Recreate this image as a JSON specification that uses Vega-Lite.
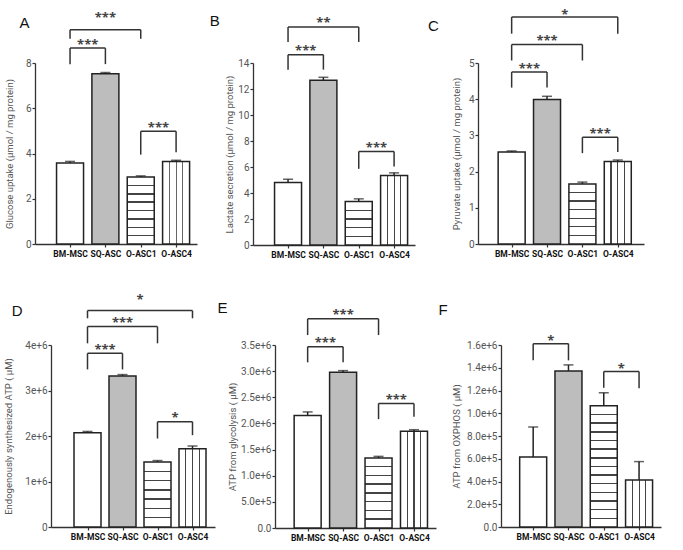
{
  "$schema": "https://vega.github.io/schema/vega-lite/v6.json",
  "background": "white",
  "padding": {"left": 3, "top": 8, "right": 2, "bottom": 2},
  "config": {
    "view": {"stroke": null},
    "axis": {"domainColor": "#333", "domainWidth": 1.3, "tickColor": "#333", "tickWidth": 1.2, "tickSize": 3, "labelFont": "Roboto", "labelFontSize": 10, "labelColor": "#555", "titleFont": "Roboto", "titleFontSize": 9.5, "titleFontWeight": "normal", "titleColor": "#555", "grid": false, "labelPadding": 1, "titlePadding": 3},
    "axisX": {"labelFontWeight": "bold", "labelColor": "#111", "labelFontSize": 8.5, "tickSize": 3, "labelPadding": 2},
    "title": {"font": "Liberation Sans", "fontSize": 15, "fontWeight": "normal", "anchor": "start", "frame": "bounds", "color": "#111"},
    "text": {"font": "Open Sans"}
  },
  "spacing": 35,
  "vconcat": [
    {
      "spacing": 12,
      "hconcat": [
        {
          "width": 162, "height": 181,
          "title": {"text": "A", "dx": 15, "offset": -19},
          "data": {"values": [
            {"p": 1, "g": "BM-MSC", "v": 3.58, "hi": 3.65},
            {"p": 2, "g": "SQ-ASC", "v": 7.53, "hi": 7.58},
            {"p": 3, "g": "O-ASC1", "v": 2.96, "hi": 3.01},
            {"p": 4, "g": "O-ASC4", "v": 3.65, "hi": 3.7}
          ]},
          "encoding": {
            "x": {"field": "p", "type": "quantitative", "scale": {"domain": [0.15, 4.45], "nice": false, "zero": false}, "axis": {"values": [1, 2, 3, 4], "title": null, "labelExpr": "['BM-MSC','SQ-ASC','O-ASC1','O-ASC4'][datum.value-1]"}},
            "y": {"field": "v", "type": "quantitative", "scale": {"domain": [0, 8], "nice": false}, "axis": {"values": [0, 2, 4, 6, 8], "titlePadding": 11, "title": "Glucose uptake (μmol / mg protein)"}}
          },
          "layer": [
            {"transform": [{"filter": "datum.p==1"}], "mark": {"type": "bar", "width": 27, "fill": "#fff", "stroke": "#222", "strokeWidth": 1.5}},
            {"transform": [{"filter": "datum.p==2"}], "mark": {"type": "bar", "width": 27, "fill": "#bdbdbd", "stroke": "#222", "strokeWidth": 1.5}},
            {"transform": [{"filter": "datum.p==3"}], "mark": {"type": "bar", "width": 27, "stroke": "#222", "strokeWidth": 1.5, "fill": {"gradient": "linear", "x1": 0, "y1": 0, "x2": 0, "y2": 1, "stops": [
              {"offset": 0, "color": "#fff"},
              {"offset": 0.114, "color": "#fff"}, {"offset": 0.114, "color": "#444"}, {"offset": 0.136, "color": "#444"}, {"offset": 0.136, "color": "#fff"},
              {"offset": 0.239, "color": "#fff"}, {"offset": 0.239, "color": "#444"}, {"offset": 0.261, "color": "#444"}, {"offset": 0.261, "color": "#fff"},
              {"offset": 0.364, "color": "#fff"}, {"offset": 0.364, "color": "#444"}, {"offset": 0.386, "color": "#444"}, {"offset": 0.386, "color": "#fff"},
              {"offset": 0.489, "color": "#fff"}, {"offset": 0.489, "color": "#444"}, {"offset": 0.511, "color": "#444"}, {"offset": 0.511, "color": "#fff"},
              {"offset": 0.614, "color": "#fff"}, {"offset": 0.614, "color": "#444"}, {"offset": 0.636, "color": "#444"}, {"offset": 0.636, "color": "#fff"},
              {"offset": 0.739, "color": "#fff"}, {"offset": 0.739, "color": "#444"}, {"offset": 0.761, "color": "#444"}, {"offset": 0.761, "color": "#fff"},
              {"offset": 0.864, "color": "#fff"}, {"offset": 0.864, "color": "#444"}, {"offset": 0.886, "color": "#444"}, {"offset": 0.886, "color": "#fff"},
              {"offset": 1, "color": "#fff"}]}}},
            {"transform": [{"filter": "datum.p==4"}], "mark": {"type": "bar", "width": 27, "stroke": "#222", "strokeWidth": 1.5, "fill": {"gradient": "linear", "x1": 0, "y1": 0, "x2": 1, "y2": 0, "stops": [
              {"offset": 0, "color": "#fff"}, {"offset": 0.23, "color": "#fff"}, {"offset": 0.23, "color": "#666"}, {"offset": 0.27, "color": "#666"}, {"offset": 0.27, "color": "#fff"},
              {"offset": 0.48, "color": "#fff"}, {"offset": 0.48, "color": "#666"}, {"offset": 0.52, "color": "#666"}, {"offset": 0.52, "color": "#fff"},
              {"offset": 0.73, "color": "#fff"}, {"offset": 0.73, "color": "#666"}, {"offset": 0.77, "color": "#666"}, {"offset": 0.77, "color": "#fff"}, {"offset": 1, "color": "#fff"}]}}},
            {"mark": {"type": "rule", "stroke": "#222", "strokeWidth": 1.5}, "encoding": {"y2": {"field": "hi"}}},
            {"mark": {"type": "tick", "orient": "horizontal", "size": 10, "thickness": 1.5, "color": "#222"}, "encoding": {"y": {"field": "hi", "type": "quantitative"}}},
            {
              "data": {"values": [
                {"a": 1, "b": 3, "m": 2, "y": 9.47, "yl": 9.07, "yr": 9.07, "s": "***", "ys": 10.13},
                {"a": 1, "b": 2, "m": 1.5, "y": 8.66, "yl": 7.95, "yr": 7.95, "s": "***", "ys": 8.95},
                {"a": 3, "b": 4, "m": 3.5, "y": 4.98, "yl": 3.95, "yr": 4.06, "s": "***", "ys": 5.27}
              ]},
              "layer": [
                {"mark": {"type": "rule", "stroke": "#333", "strokeWidth": 1.5}, "encoding": {"x": {"field": "a", "type": "quantitative"}, "x2": {"field": "b"}, "y": {"field": "y", "type": "quantitative"}}},
                {"mark": {"type": "rule", "stroke": "#333", "strokeWidth": 1.5}, "encoding": {"x": {"field": "a", "type": "quantitative"}, "y": {"field": "y", "type": "quantitative"}, "y2": {"field": "yl"}}},
                {"mark": {"type": "rule", "stroke": "#333", "strokeWidth": 1.5}, "encoding": {"x": {"field": "b", "type": "quantitative"}, "y": {"field": "y", "type": "quantitative"}, "y2": {"field": "yr"}}},
                {"mark": {"type": "text", "fontSize": 13, "fontWeight": "bold", "color": "#444", "baseline": "alphabetic", "dy": 7}, "encoding": {"x": {"field": "m", "type": "quantitative"}, "y": {"field": "ys", "type": "quantitative"}, "text": {"field": "s"}}}
              ]
            }
          ]
        },
        {
          "width": 162, "height": 182,
          "title": {"text": "B", "dx": -15, "offset": -12},
          "data": {"values": [
            {"p": 1, "g": "BM-MSC", "v": 4.8, "hi": 5.06},
            {"p": 2, "g": "SQ-ASC", "v": 12.67, "hi": 12.9},
            {"p": 3, "g": "O-ASC1", "v": 3.34, "hi": 3.55},
            {"p": 4, "g": "O-ASC4", "v": 5.35, "hi": 5.55}
          ]},
          "encoding": {
            "x": {"field": "p", "type": "quantitative", "scale": {"domain": [0.15, 4.45], "nice": false, "zero": false}, "axis": {"values": [1, 2, 3, 4], "title": null, "labelExpr": "['BM-MSC','SQ-ASC','O-ASC1','O-ASC4'][datum.value-1]"}},
            "y": {"field": "v", "type": "quantitative", "scale": {"domain": [0, 14], "nice": false}, "axis": {"values": [0, 2, 4, 6, 8, 10, 12, 14], "title": "Lactate secretion (μmol / mg protein)"}}
          },
          "layer": [
            {"transform": [{"filter": "datum.p==1"}], "mark": {"type": "bar", "width": 27, "fill": "#fff", "stroke": "#222", "strokeWidth": 1.5}},
            {"transform": [{"filter": "datum.p==2"}], "mark": {"type": "bar", "width": 27, "fill": "#bdbdbd", "stroke": "#222", "strokeWidth": 1.5}},
            {"transform": [{"filter": "datum.p==3"}], "mark": {"type": "bar", "width": 27, "stroke": "#222", "strokeWidth": 1.5, "fill": {"gradient": "linear", "x1": 0, "y1": 0, "x2": 0, "y2": 1, "stops": [
              {"offset": 0, "color": "#fff"},
              {"offset": 0.184, "color": "#fff"}, {"offset": 0.184, "color": "#444"}, {"offset": 0.216, "color": "#444"}, {"offset": 0.216, "color": "#fff"},
              {"offset": 0.384, "color": "#fff"}, {"offset": 0.384, "color": "#444"}, {"offset": 0.416, "color": "#444"}, {"offset": 0.416, "color": "#fff"},
              {"offset": 0.584, "color": "#fff"}, {"offset": 0.584, "color": "#444"}, {"offset": 0.616, "color": "#444"}, {"offset": 0.616, "color": "#fff"},
              {"offset": 0.784, "color": "#fff"}, {"offset": 0.784, "color": "#444"}, {"offset": 0.816, "color": "#444"}, {"offset": 0.816, "color": "#fff"},
              {"offset": 1, "color": "#fff"}]}}},
            {"transform": [{"filter": "datum.p==4"}], "mark": {"type": "bar", "width": 27, "stroke": "#222", "strokeWidth": 1.5, "fill": {"gradient": "linear", "x1": 0, "y1": 0, "x2": 1, "y2": 0, "stops": [
              {"offset": 0, "color": "#fff"}, {"offset": 0.23, "color": "#fff"}, {"offset": 0.23, "color": "#444"}, {"offset": 0.27, "color": "#444"}, {"offset": 0.27, "color": "#fff"},
              {"offset": 0.48, "color": "#fff"}, {"offset": 0.48, "color": "#444"}, {"offset": 0.52, "color": "#444"}, {"offset": 0.52, "color": "#fff"},
              {"offset": 0.73, "color": "#fff"}, {"offset": 0.73, "color": "#444"}, {"offset": 0.77, "color": "#444"}, {"offset": 0.77, "color": "#fff"}, {"offset": 1, "color": "#fff"}]}}},
            {"mark": {"type": "rule", "stroke": "#222", "strokeWidth": 1.5}, "encoding": {"y2": {"field": "hi"}}},
            {"mark": {"type": "tick", "orient": "horizontal", "size": 10, "thickness": 1.5, "color": "#222"}, "encoding": {"y": {"field": "hi", "type": "quantitative"}}},
            {
              "data": {"values": [
                {"a": 1, "b": 3, "m": 2, "y": 16.77, "yl": 15.62, "yr": 15.62, "s": "**", "ys": 17.34},
                {"a": 1, "b": 2, "m": 1.5, "y": 14.64, "yl": 13.49, "yr": 13.49, "s": "***", "ys": 15.16},
                {"a": 3, "b": 4, "m": 3.5, "y": 7.19, "yl": 5.86, "yr": 6.04, "s": "***", "ys": 7.71}
              ]},
              "layer": [
                {"mark": {"type": "rule", "stroke": "#333", "strokeWidth": 1.5}, "encoding": {"x": {"field": "a", "type": "quantitative"}, "x2": {"field": "b"}, "y": {"field": "y", "type": "quantitative"}}},
                {"mark": {"type": "rule", "stroke": "#333", "strokeWidth": 1.5}, "encoding": {"x": {"field": "a", "type": "quantitative"}, "y": {"field": "y", "type": "quantitative"}, "y2": {"field": "yl"}}},
                {"mark": {"type": "rule", "stroke": "#333", "strokeWidth": 1.5}, "encoding": {"x": {"field": "b", "type": "quantitative"}, "y": {"field": "y", "type": "quantitative"}, "y2": {"field": "yr"}}},
                {"mark": {"type": "text", "fontSize": 13, "fontWeight": "bold", "color": "#444", "baseline": "alphabetic", "dy": 7}, "encoding": {"x": {"field": "m", "type": "quantitative"}, "y": {"field": "ys", "type": "quantitative"}, "text": {"field": "s"}}}
              ]
            }
          ]
        },
        {
          "width": 166, "height": 181,
          "title": {"text": "C", "dx": -23.5, "offset": -25},
          "data": {"values": [
            {"p": 1, "g": "BM-MSC", "v": 2.54, "hi": 2.57},
            {"p": 2, "g": "SQ-ASC", "v": 3.99, "hi": 4.08},
            {"p": 3, "g": "O-ASC1", "v": 1.66, "hi": 1.71},
            {"p": 4, "g": "O-ASC4", "v": 2.28, "hi": 2.32}
          ]},
          "encoding": {
            "x": {"field": "p", "type": "quantitative", "scale": {"domain": [0.19, 4.6], "nice": false, "zero": false}, "axis": {"values": [1, 2, 3, 4], "title": null, "labelExpr": "['BM-MSC','SQ-ASC','O-ASC1','O-ASC4'][datum.value-1]"}},
            "y": {"field": "v", "type": "quantitative", "scale": {"domain": [0, 5], "nice": false}, "axis": {"values": [0, 1, 2, 3, 4, 5], "titlePadding": 7, "title": "Pyruvate uptake (μmol / mg protein)"}}
          },
          "layer": [
            {"transform": [{"filter": "datum.p==1"}], "mark": {"type": "bar", "width": 27, "fill": "#fff", "stroke": "#222", "strokeWidth": 1.5}},
            {"transform": [{"filter": "datum.p==2"}], "mark": {"type": "bar", "width": 27, "fill": "#bdbdbd", "stroke": "#222", "strokeWidth": 1.5}},
            {"transform": [{"filter": "datum.p==3"}], "mark": {"type": "bar", "width": 27, "stroke": "#222", "strokeWidth": 1.5, "fill": {"gradient": "linear", "x1": 0, "y1": 0, "x2": 0, "y2": 1, "stops": [
              {"offset": 0, "color": "#fff"},
              {"offset": 0.132, "color": "#fff"}, {"offset": 0.132, "color": "#444"}, {"offset": 0.154, "color": "#444"}, {"offset": 0.154, "color": "#fff"},
              {"offset": 0.275, "color": "#fff"}, {"offset": 0.275, "color": "#444"}, {"offset": 0.297, "color": "#444"}, {"offset": 0.297, "color": "#fff"},
              {"offset": 0.418, "color": "#fff"}, {"offset": 0.418, "color": "#444"}, {"offset": 0.44, "color": "#444"}, {"offset": 0.44, "color": "#fff"},
              {"offset": 0.56, "color": "#fff"}, {"offset": 0.56, "color": "#444"}, {"offset": 0.582, "color": "#444"}, {"offset": 0.582, "color": "#fff"},
              {"offset": 0.703, "color": "#fff"}, {"offset": 0.703, "color": "#444"}, {"offset": 0.725, "color": "#444"}, {"offset": 0.725, "color": "#fff"},
              {"offset": 0.846, "color": "#fff"}, {"offset": 0.846, "color": "#444"}, {"offset": 0.868, "color": "#444"}, {"offset": 0.868, "color": "#fff"},
              {"offset": 1, "color": "#fff"}]}}},
            {"transform": [{"filter": "datum.p==4"}], "mark": {"type": "bar", "width": 27, "stroke": "#222", "strokeWidth": 1.5, "fill": {"gradient": "linear", "x1": 0, "y1": 0, "x2": 1, "y2": 0, "stops": [
              {"offset": 0, "color": "#fff"}, {"offset": 0.23, "color": "#fff"}, {"offset": 0.23, "color": "#444"}, {"offset": 0.27, "color": "#444"}, {"offset": 0.27, "color": "#fff"},
              {"offset": 0.48, "color": "#fff"}, {"offset": 0.48, "color": "#444"}, {"offset": 0.52, "color": "#444"}, {"offset": 0.52, "color": "#fff"},
              {"offset": 0.73, "color": "#fff"}, {"offset": 0.73, "color": "#444"}, {"offset": 0.77, "color": "#444"}, {"offset": 0.77, "color": "#fff"}, {"offset": 1, "color": "#fff"}]}}},
            {"mark": {"type": "rule", "stroke": "#222", "strokeWidth": 1.5}, "encoding": {"y2": {"field": "hi"}}},
            {"mark": {"type": "tick", "orient": "horizontal", "size": 10, "thickness": 1.5, "color": "#222"}, "encoding": {"y": {"field": "hi", "type": "quantitative"}}},
            {
              "data": {"values": [
                {"a": 1, "b": 4, "m": 2.5, "y": 6.27, "yl": 5.81, "yr": 5.81, "s": "*", "ys": 6.41},
                {"a": 1, "b": 3, "m": 2, "y": 5.51, "yl": 5.07, "yr": 5.07, "s": "***", "ys": 5.69},
                {"a": 1, "b": 2, "m": 1.5, "y": 4.75, "yl": 4.32, "yr": 4.32, "s": "***", "ys": 4.92},
                {"a": 3, "b": 4, "m": 3.5, "y": 2.95, "yl": 2.51, "yr": 2.54, "s": "***", "ys": 3.12}
              ]},
              "layer": [
                {"mark": {"type": "rule", "stroke": "#333", "strokeWidth": 1.5}, "encoding": {"x": {"field": "a", "type": "quantitative"}, "x2": {"field": "b"}, "y": {"field": "y", "type": "quantitative"}}},
                {"mark": {"type": "rule", "stroke": "#333", "strokeWidth": 1.5}, "encoding": {"x": {"field": "a", "type": "quantitative"}, "y": {"field": "y", "type": "quantitative"}, "y2": {"field": "yl"}}},
                {"mark": {"type": "rule", "stroke": "#333", "strokeWidth": 1.5}, "encoding": {"x": {"field": "b", "type": "quantitative"}, "y": {"field": "y", "type": "quantitative"}, "y2": {"field": "yr"}}},
                {"mark": {"type": "text", "fontSize": 13, "fontWeight": "bold", "color": "#444", "baseline": "alphabetic", "dy": 7}, "encoding": {"x": {"field": "m", "type": "quantitative"}, "y": {"field": "ys", "type": "quantitative"}, "text": {"field": "s"}}}
              ]
            }
          ]
        }
      ]
    },
    {
      "spacing": -33,
      "hconcat": [
        {"width": 1, "height": 1, "data": {"values": []}, "mark": "point"},
        {
          "spacing": 2,
          "hconcat": [
            {
              "width": 164, "height": 182,
              "title": {"text": "D", "dx": 8, "offset": -25},
              "data": {"values": [
                {"p": 1, "g": "BM-MSC", "v": 2070000, "hi": 2100000},
                {"p": 2, "g": "SQ-ASC", "v": 3320000, "hi": 3350000},
                {"p": 3, "g": "O-ASC1", "v": 1430000, "hi": 1460000},
                {"p": 4, "g": "O-ASC4", "v": 1720000, "hi": 1780000}
              ]},
              "encoding": {
                "x": {"field": "p", "type": "quantitative", "scale": {"domain": [0.1, 4.5], "nice": false, "zero": false}, "axis": {"values": [1, 2, 3, 4], "title": null, "labelExpr": "['BM-MSC','SQ-ASC','O-ASC1','O-ASC4'][datum.value-1]"}},
                "y": {"field": "v", "type": "quantitative", "scale": {"domain": [0, 4000000], "nice": false}, "axis": {"values": [0, 1000000, 2000000, 3000000, 4000000], "labelExpr": "datum.value==0?'0':format(datum.value,'.0e')", "titlePadding": 11, "title": "Endogenously synthesized ATP ( μM)"}}
              },
              "layer": [
                {"transform": [{"filter": "datum.p==1"}], "mark": {"type": "bar", "width": 27, "fill": "#fff", "stroke": "#222", "strokeWidth": 1.5}},
                {"transform": [{"filter": "datum.p==2"}], "mark": {"type": "bar", "width": 27, "fill": "#bdbdbd", "stroke": "#222", "strokeWidth": 1.5}},
                {"transform": [{"filter": "datum.p==3"}], "mark": {"type": "bar", "width": 27, "stroke": "#222", "strokeWidth": 1.5, "fill": {"gradient": "linear", "x1": 0, "y1": 0, "x2": 0, "y2": 1, "stops": [
                  {"offset": 0, "color": "#fff"},
                  {"offset": 0.132, "color": "#fff"}, {"offset": 0.132, "color": "#444"}, {"offset": 0.154, "color": "#444"}, {"offset": 0.154, "color": "#fff"},
                  {"offset": 0.275, "color": "#fff"}, {"offset": 0.275, "color": "#444"}, {"offset": 0.297, "color": "#444"}, {"offset": 0.297, "color": "#fff"},
                  {"offset": 0.418, "color": "#fff"}, {"offset": 0.418, "color": "#444"}, {"offset": 0.44, "color": "#444"}, {"offset": 0.44, "color": "#fff"},
                  {"offset": 0.56, "color": "#fff"}, {"offset": 0.56, "color": "#444"}, {"offset": 0.582, "color": "#444"}, {"offset": 0.582, "color": "#fff"},
                  {"offset": 0.703, "color": "#fff"}, {"offset": 0.703, "color": "#444"}, {"offset": 0.725, "color": "#444"}, {"offset": 0.725, "color": "#fff"},
                  {"offset": 0.846, "color": "#fff"}, {"offset": 0.846, "color": "#444"}, {"offset": 0.868, "color": "#444"}, {"offset": 0.868, "color": "#fff"},
                  {"offset": 1, "color": "#fff"}]}}},
                {"transform": [{"filter": "datum.p==4"}], "mark": {"type": "bar", "width": 27, "stroke": "#222", "strokeWidth": 1.5, "fill": {"gradient": "linear", "x1": 0, "y1": 0, "x2": 1, "y2": 0, "stops": [
                  {"offset": 0, "color": "#fff"}, {"offset": 0.23, "color": "#fff"}, {"offset": 0.23, "color": "#444"}, {"offset": 0.27, "color": "#444"}, {"offset": 0.27, "color": "#fff"},
                  {"offset": 0.48, "color": "#fff"}, {"offset": 0.48, "color": "#444"}, {"offset": 0.52, "color": "#444"}, {"offset": 0.52, "color": "#fff"},
                  {"offset": 0.73, "color": "#fff"}, {"offset": 0.73, "color": "#444"}, {"offset": 0.77, "color": "#444"}, {"offset": 0.77, "color": "#fff"}, {"offset": 1, "color": "#fff"}]}}},
                {"mark": {"type": "rule", "stroke": "#222", "strokeWidth": 1.5}, "encoding": {"y2": {"field": "hi"}}},
                {"mark": {"type": "tick", "orient": "horizontal", "size": 10, "thickness": 1.5, "color": "#222"}, "encoding": {"y": {"field": "hi", "type": "quantitative"}}},
                {
                  "data": {"values": [
                    {"a": 1, "b": 4, "m": 2.5, "y": 4756000, "yl": 4587000, "yr": 4587000, "s": "*", "ys": 5050000},
                    {"a": 1, "b": 3, "m": 2, "y": 4404000, "yl": 4037000, "yr": 4037000, "s": "***", "ys": 4550000},
                    {"a": 1, "b": 2, "m": 1.5, "y": 3817000, "yl": 3464000, "yr": 3464000, "s": "***", "ys": 3960000},
                    {"a": 3, "b": 4, "m": 3.5, "y": 2312000, "yl": 1945000, "yr": 2018000, "s": "*", "ys": 2460000}
                  ]},
                  "layer": [
                    {"mark": {"type": "rule", "stroke": "#333", "strokeWidth": 1.5}, "encoding": {"x": {"field": "a", "type": "quantitative"}, "x2": {"field": "b"}, "y": {"field": "y", "type": "quantitative"}}},
                    {"mark": {"type": "rule", "stroke": "#333", "strokeWidth": 1.5}, "encoding": {"x": {"field": "a", "type": "quantitative"}, "y": {"field": "y", "type": "quantitative"}, "y2": {"field": "yl"}}},
                    {"mark": {"type": "rule", "stroke": "#333", "strokeWidth": 1.5}, "encoding": {"x": {"field": "b", "type": "quantitative"}, "y": {"field": "y", "type": "quantitative"}, "y2": {"field": "yr"}}},
                    {"mark": {"type": "text", "fontSize": 13, "fontWeight": "bold", "color": "#444", "baseline": "alphabetic", "dy": 7}, "encoding": {"x": {"field": "m", "type": "quantitative"}, "y": {"field": "ys", "type": "quantitative"}, "text": {"field": "s"}}}
                  ]
                }
              ]
            },
            {
              "width": 161, "height": 183,
              "title": {"text": "E", "dx": -10, "offset": -7},
              "data": {"values": [
                {"p": 1, "g": "BM-MSC", "v": 2150000, "hi": 2220000},
                {"p": 2, "g": "SQ-ASC", "v": 2980000, "hi": 3010000},
                {"p": 3, "g": "O-ASC1", "v": 1340000, "hi": 1370000},
                {"p": 4, "g": "O-ASC4", "v": 1850000, "hi": 1880000}
              ]},
              "encoding": {
                "x": {"field": "p", "type": "quantitative", "scale": {"domain": [0.22, 4.48], "nice": false, "zero": false}, "axis": {"values": [1, 2, 3, 4], "title": null, "labelExpr": "['BM-MSC','SQ-ASC','O-ASC1','O-ASC4'][datum.value-1]"}},
                "y": {"field": "v", "type": "quantitative", "scale": {"domain": [0, 3500000], "nice": false}, "axis": {"values": [0, 500000, 1000000, 1500000, 2000000, 2500000, 3000000, 3500000], "labelExpr": "datum.value==0?'0.0':format(datum.value,'.1e')", "title": "ATP from glycolysis ( μM)"}}
              },
              "layer": [
                {"transform": [{"filter": "datum.p==1"}], "mark": {"type": "bar", "width": 27, "fill": "#fff", "stroke": "#222", "strokeWidth": 1.5}},
                {"transform": [{"filter": "datum.p==2"}], "mark": {"type": "bar", "width": 27, "fill": "#bdbdbd", "stroke": "#222", "strokeWidth": 1.5}},
                {"transform": [{"filter": "datum.p==3"}], "mark": {"type": "bar", "width": 27, "stroke": "#222", "strokeWidth": 1.5, "fill": {"gradient": "linear", "x1": 0, "y1": 0, "x2": 0, "y2": 1, "stops": [
                  {"offset": 0, "color": "#fff"},
                  {"offset": 0.114, "color": "#fff"}, {"offset": 0.114, "color": "#444"}, {"offset": 0.136, "color": "#444"}, {"offset": 0.136, "color": "#fff"},
                  {"offset": 0.239, "color": "#fff"}, {"offset": 0.239, "color": "#444"}, {"offset": 0.261, "color": "#444"}, {"offset": 0.261, "color": "#fff"},
                  {"offset": 0.364, "color": "#fff"}, {"offset": 0.364, "color": "#444"}, {"offset": 0.386, "color": "#444"}, {"offset": 0.386, "color": "#fff"},
                  {"offset": 0.489, "color": "#fff"}, {"offset": 0.489, "color": "#444"}, {"offset": 0.511, "color": "#444"}, {"offset": 0.511, "color": "#fff"},
                  {"offset": 0.614, "color": "#fff"}, {"offset": 0.614, "color": "#444"}, {"offset": 0.636, "color": "#444"}, {"offset": 0.636, "color": "#fff"},
                  {"offset": 0.739, "color": "#fff"}, {"offset": 0.739, "color": "#444"}, {"offset": 0.761, "color": "#444"}, {"offset": 0.761, "color": "#fff"},
                  {"offset": 0.864, "color": "#fff"}, {"offset": 0.864, "color": "#444"}, {"offset": 0.886, "color": "#444"}, {"offset": 0.886, "color": "#fff"},
                  {"offset": 1, "color": "#fff"}]}}},
                {"transform": [{"filter": "datum.p==4"}], "mark": {"type": "bar", "width": 27, "stroke": "#222", "strokeWidth": 1.5, "fill": {"gradient": "linear", "x1": 0, "y1": 0, "x2": 1, "y2": 0, "stops": [
                  {"offset": 0, "color": "#fff"}, {"offset": 0.23, "color": "#fff"}, {"offset": 0.23, "color": "#444"}, {"offset": 0.27, "color": "#444"}, {"offset": 0.27, "color": "#fff"},
                  {"offset": 0.48, "color": "#fff"}, {"offset": 0.48, "color": "#444"}, {"offset": 0.52, "color": "#444"}, {"offset": 0.52, "color": "#fff"},
                  {"offset": 0.73, "color": "#fff"}, {"offset": 0.73, "color": "#444"}, {"offset": 0.77, "color": "#444"}, {"offset": 0.77, "color": "#fff"}, {"offset": 1, "color": "#fff"}]}}},
                {"mark": {"type": "rule", "stroke": "#222", "strokeWidth": 1.5}, "encoding": {"y2": {"field": "hi"}}},
                {"mark": {"type": "tick", "orient": "horizontal", "size": 10, "thickness": 1.5, "color": "#222"}, "encoding": {"y": {"field": "hi", "type": "quantitative"}}},
                {
                  "data": {"values": [
                    {"a": 1, "b": 3, "m": 2, "y": 4000000, "yl": 3690000, "yr": 3690000, "s": "***", "ys": 4130000},
                    {"a": 1, "b": 2, "m": 1.5, "y": 3468000, "yl": 3168000, "yr": 3168000, "s": "***", "ys": 3600000},
                    {"a": 3, "b": 4, "m": 3.5, "y": 2382000, "yl": 2082000, "yr": 2127000, "s": "***", "ys": 2510000}
                  ]},
                  "layer": [
                    {"mark": {"type": "rule", "stroke": "#333", "strokeWidth": 1.5}, "encoding": {"x": {"field": "a", "type": "quantitative"}, "x2": {"field": "b"}, "y": {"field": "y", "type": "quantitative"}}},
                    {"mark": {"type": "rule", "stroke": "#333", "strokeWidth": 1.5}, "encoding": {"x": {"field": "a", "type": "quantitative"}, "y": {"field": "y", "type": "quantitative"}, "y2": {"field": "yl"}}},
                    {"mark": {"type": "rule", "stroke": "#333", "strokeWidth": 1.5}, "encoding": {"x": {"field": "b", "type": "quantitative"}, "y": {"field": "y", "type": "quantitative"}, "y2": {"field": "yr"}}},
                    {"mark": {"type": "text", "fontSize": 13, "fontWeight": "bold", "color": "#444", "baseline": "alphabetic", "dy": 7}, "encoding": {"x": {"field": "m", "type": "quantitative"}, "y": {"field": "ys", "type": "quantitative"}, "text": {"field": "s"}}}
                  ]
                }
              ]
            },
            {
              "width": 160, "height": 182,
              "title": {"text": "F", "dx": -13, "offset": 17},
              "data": {"values": [
                {"p": 1, "g": "BM-MSC", "v": 616000, "hi": 880000},
                {"p": 2, "g": "SQ-ASC", "v": 1372000, "hi": 1425000},
                {"p": 3, "g": "O-ASC1", "v": 1065000, "hi": 1180000},
                {"p": 4, "g": "O-ASC4", "v": 413000, "hi": 575000}
              ]},
              "encoding": {
                "x": {"field": "p", "type": "quantitative", "scale": {"domain": [0.23, 4.48], "nice": false, "zero": false}, "axis": {"values": [1, 2, 3, 4], "title": null, "labelExpr": "['BM-MSC','SQ-ASC','O-ASC1','O-ASC4'][datum.value-1]"}},
                "y": {"field": "v", "type": "quantitative", "scale": {"domain": [0, 1600000], "nice": false}, "axis": {"values": [0, 200000, 400000, 600000, 800000, 1000000, 1200000, 1400000, 1600000], "labelExpr": "datum.value==0?'0.0':format(datum.value,'.1e')", "titlePadding": 5, "title": "ATP from OXPHOS ( μM)"}}
              },
              "layer": [
                {"transform": [{"filter": "datum.p==1"}], "mark": {"type": "bar", "width": 27, "fill": "#fff", "stroke": "#222", "strokeWidth": 1.5}},
                {"transform": [{"filter": "datum.p==2"}], "mark": {"type": "bar", "width": 27, "fill": "#bdbdbd", "stroke": "#222", "strokeWidth": 1.5}},
                {"transform": [{"filter": "datum.p==3"}], "mark": {"type": "bar", "width": 27, "stroke": "#222", "strokeWidth": 1.5, "fill": {"gradient": "linear", "x1": 0, "y1": 0, "x2": 0, "y2": 1, "stops": [
                  {"offset": 0, "color": "#fff"},
                  {"offset": 0.065, "color": "#fff"}, {"offset": 0.065, "color": "#444"}, {"offset": 0.077, "color": "#444"}, {"offset": 0.077, "color": "#fff"},
                  {"offset": 0.137, "color": "#fff"}, {"offset": 0.137, "color": "#444"}, {"offset": 0.149, "color": "#444"}, {"offset": 0.149, "color": "#fff"},
                  {"offset": 0.208, "color": "#fff"}, {"offset": 0.208, "color": "#444"}, {"offset": 0.22, "color": "#444"}, {"offset": 0.22, "color": "#fff"},
                  {"offset": 0.28, "color": "#fff"}, {"offset": 0.28, "color": "#444"}, {"offset": 0.292, "color": "#444"}, {"offset": 0.292, "color": "#fff"},
                  {"offset": 0.351, "color": "#fff"}, {"offset": 0.351, "color": "#444"}, {"offset": 0.363, "color": "#444"}, {"offset": 0.363, "color": "#fff"},
                  {"offset": 0.423, "color": "#fff"}, {"offset": 0.423, "color": "#444"}, {"offset": 0.435, "color": "#444"}, {"offset": 0.435, "color": "#fff"},
                  {"offset": 0.494, "color": "#fff"}, {"offset": 0.494, "color": "#444"}, {"offset": 0.506, "color": "#444"}, {"offset": 0.506, "color": "#fff"},
                  {"offset": 0.565, "color": "#fff"}, {"offset": 0.565, "color": "#444"}, {"offset": 0.577, "color": "#444"}, {"offset": 0.577, "color": "#fff"},
                  {"offset": 0.637, "color": "#fff"}, {"offset": 0.637, "color": "#444"}, {"offset": 0.649, "color": "#444"}, {"offset": 0.649, "color": "#fff"},
                  {"offset": 0.708, "color": "#fff"}, {"offset": 0.708, "color": "#444"}, {"offset": 0.72, "color": "#444"}, {"offset": 0.72, "color": "#fff"},
                  {"offset": 0.78, "color": "#fff"}, {"offset": 0.78, "color": "#444"}, {"offset": 0.792, "color": "#444"}, {"offset": 0.792, "color": "#fff"},
                  {"offset": 0.851, "color": "#fff"}, {"offset": 0.851, "color": "#444"}, {"offset": 0.863, "color": "#444"}, {"offset": 0.863, "color": "#fff"},
                  {"offset": 0.923, "color": "#fff"}, {"offset": 0.923, "color": "#444"}, {"offset": 0.935, "color": "#444"}, {"offset": 0.935, "color": "#fff"},
                  {"offset": 1, "color": "#fff"}]}}},
                {"transform": [{"filter": "datum.p==4"}], "mark": {"type": "bar", "width": 27, "stroke": "#222", "strokeWidth": 1.5, "fill": {"gradient": "linear", "x1": 0, "y1": 0, "x2": 1, "y2": 0, "stops": [
                  {"offset": 0, "color": "#fff"}, {"offset": 0.23, "color": "#fff"}, {"offset": 0.23, "color": "#444"}, {"offset": 0.27, "color": "#444"}, {"offset": 0.27, "color": "#fff"},
                  {"offset": 0.48, "color": "#fff"}, {"offset": 0.48, "color": "#444"}, {"offset": 0.52, "color": "#444"}, {"offset": 0.52, "color": "#fff"},
                  {"offset": 0.73, "color": "#fff"}, {"offset": 0.73, "color": "#444"}, {"offset": 0.77, "color": "#444"}, {"offset": 0.77, "color": "#fff"}, {"offset": 1, "color": "#fff"}]}}},
                {"mark": {"type": "rule", "stroke": "#222", "strokeWidth": 1.5}, "encoding": {"y2": {"field": "hi"}}},
                {"mark": {"type": "tick", "orient": "horizontal", "size": 10, "thickness": 1.5, "color": "#222"}, "encoding": {"y": {"field": "hi", "type": "quantitative"}}},
                {
                  "data": {"values": [
                    {"a": 1, "b": 2, "m": 1.5, "y": 1612000, "yl": 1465000, "yr": 1465000, "s": "*", "ys": 1664000},
                    {"a": 3, "b": 4, "m": 3.5, "y": 1366000, "yl": 1225000, "yr": 1219000, "s": "*", "ys": 1415000}
                  ]},
                  "layer": [
                    {"mark": {"type": "rule", "stroke": "#333", "strokeWidth": 1.5}, "encoding": {"x": {"field": "a", "type": "quantitative"}, "x2": {"field": "b"}, "y": {"field": "y", "type": "quantitative"}}},
                    {"mark": {"type": "rule", "stroke": "#333", "strokeWidth": 1.5}, "encoding": {"x": {"field": "a", "type": "quantitative"}, "y": {"field": "y", "type": "quantitative"}, "y2": {"field": "yl"}}},
                    {"mark": {"type": "rule", "stroke": "#333", "strokeWidth": 1.5}, "encoding": {"x": {"field": "b", "type": "quantitative"}, "y": {"field": "y", "type": "quantitative"}, "y2": {"field": "yr"}}},
                    {"mark": {"type": "text", "fontSize": 13, "fontWeight": "bold", "color": "#444", "baseline": "alphabetic", "dy": 7}, "encoding": {"x": {"field": "m", "type": "quantitative"}, "y": {"field": "ys", "type": "quantitative"}, "text": {"field": "s"}}}
                  ]
                }
              ]
            }
          ]
        }
      ]
    }
  ]
}
